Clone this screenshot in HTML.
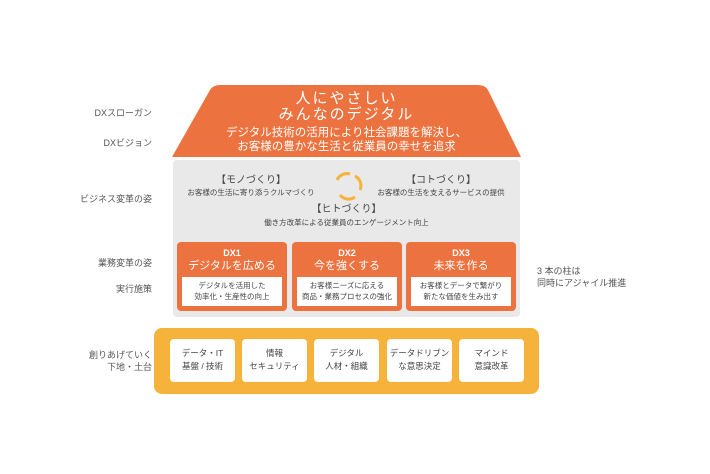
<!DOCTYPE html>
<html><head><meta charset="utf-8"><style>
*{margin:0;padding:0;box-sizing:border-box}
body{width:710px;height:474px;background:#fff;position:relative;overflow:hidden;font-family:"Liberation Sans","Noto Sans CJK JP",sans-serif;color:#555}
.a{position:absolute}
.lab{position:absolute;right:558px;font-size:9px;text-align:right;white-space:nowrap;line-height:12px;color:#555}
.c{text-align:center;white-space:nowrap}
.dx{position:absolute;top:242px;width:110px;height:69px;background:#ec7340;border-radius:4px;color:#fff}
.dx .t{font-size:9px;font-weight:bold;text-align:center;margin-top:6px;line-height:11px}
.dx .s{font-size:11px;text-align:center;line-height:14px}
.dx .w{position:absolute;left:5px;right:5px;top:35px;height:29px;background:#fff;color:#444;font-size:7.5px;line-height:11px;text-align:center;padding-top:3px}
.b{position:absolute;top:339px;height:43px;background:#fff;border-radius:4px;font-size:8.5px;line-height:13px;text-align:center;padding-top:8px;color:#444}
</style></head><body>
<svg class="a" style="left:0;top:0" width="710" height="474">
<path d="M172 157 L210 90 Q213 85 220 85 L478 85 Q485 85 488 90 L521 157 Z" fill="#ec7340"/>
<rect x="173" y="160" width="347" height="157" rx="4" fill="#e9e9e9"/>
<rect x="154" y="328" width="385" height="66" rx="8" fill="#f6b33c"/>
<g fill="none" stroke="#f6b33c" stroke-width="3">
<path d="M337 180 A11 11 0 0 1 350 174"/><path d="M355 176 A11 11 0 0 1 360 190"/><path d="M355 197 A11 11 0 0 1 340 195"/>
</g>
</svg>
<div class="lab" style="top:107px">DXスローガン</div>
<div class="lab" style="top:137px">DXビジョン</div>
<div class="lab" style="top:193px">ビジネス変革の姿</div>
<div class="lab" style="top:257px">業務変革の姿</div>
<div class="lab" style="top:283px">実行施策</div>
<div class="lab" style="top:349px">創りあげていく<br>下地・土台</div>
<div class="a" style="left:537px;top:265px;font-size:9px;line-height:12px;color:#555">3 本の柱は<br>同時にアジャイル推進</div>
<div class="a c" style="left:172px;width:349px;top:91px;color:#fff;font-size:15px;line-height:16px;letter-spacing:2px">人にやさしい<br>みんなのデジタル</div>
<div class="a c" style="left:172px;width:349px;top:126px;color:#fff;font-size:11.5px;line-height:14px">デジタル技術の活用により社会課題を解決し、<br>お客様の豊かな生活と従業員の幸せを追求</div>
<div class="a c" style="left:176px;width:150px;top:174px;font-size:10px;color:#444;line-height:13px">【モノづくり】</div>
<div class="a c" style="left:176px;width:150px;top:187px;font-size:7.5px;color:#444">お客様の生活に寄り添うクルマづくり</div>
<div class="a c" style="left:366px;width:150px;top:174px;font-size:10px;color:#444;line-height:13px">【コトづくり】</div>
<div class="a c" style="left:366px;width:150px;top:187px;font-size:7.5px;color:#444">お客様の生活を支えるサービスの提供</div>
<div class="a c" style="left:172px;width:349px;top:203px;font-size:10px;color:#444;line-height:13px">【ヒトづくり】</div>
<div class="a c" style="left:172px;width:349px;top:217px;font-size:7.5px;color:#444">働き方改革による従業員のエンゲージメント向上</div>
<div class="dx" style="left:177px"><div class="t">DX1</div><div class="s">デジタルを広める</div><div class="w">デジタルを活用した<br>効率化・生産性の向上</div></div>
<div class="dx" style="left:292px"><div class="t">DX2</div><div class="s">今を強くする</div><div class="w">お客様ニーズに応える<br>商品・業務プロセスの強化</div></div>
<div class="dx" style="left:406px"><div class="t">DX3</div><div class="s">未来を作る</div><div class="w">お客様とデータで繋がり<br>新たな価値を生み出す</div></div>
<div class="b" style="left:170px;width:65px">データ・IT<br>基盤 / 技術</div>
<div class="b" style="left:242px;width:65px">情報<br>セキュリティ</div>
<div class="b" style="left:314px;width:65px">デジタル<br>人材・組織</div>
<div class="b" style="left:387px;width:65px">データドリブン<br>な意思決定</div>
<div class="b" style="left:459px;width:65px">マインド<br>意識改革</div>
</body></html>
